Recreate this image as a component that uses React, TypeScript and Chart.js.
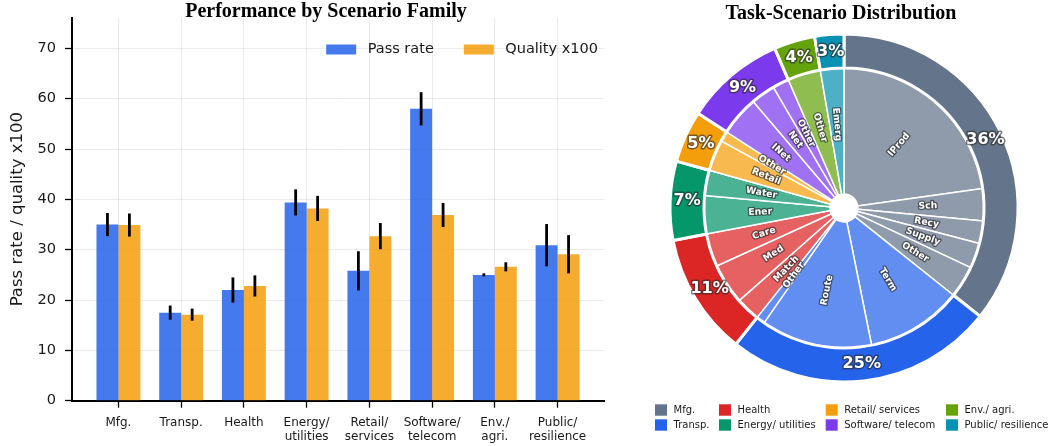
import React, { useEffect, useRef } from 'react';
import { Chart, registerables } from 'chart.js';

Chart.register(...registerables);

// ---------- Bar chart data ----------
const categories: string[][] = [
  ['Mfg.'], ['Transp.'], ['Health'], ['Energy/', 'utilities'],
  ['Retail/', 'services'], ['Software/', 'telecom'], ['Env./', 'agri.'], ['Public/', 'resilience'],
];
const passRate = [35.0, 17.5, 22.0, 39.4, 25.8, 58.0, 25.0, 30.9];
const passErr = [2.3, 1.4, 2.5, 2.6, 3.9, 3.3, 0.3, 4.2];
const quality = [34.9, 17.1, 22.8, 38.2, 32.7, 36.9, 26.6, 29.1];
const qualityErr = [2.3, 1.2, 2.1, 2.5, 2.6, 2.4, 0.9, 3.8];
const yTicks = [0, 10, 20, 30, 40, 50, 60, 70];

// ---------- Pie chart data ----------
const families = [
  'Mfg.', 'Transp.', 'Health', 'Energy/ utilities',
  'Retail/ services', 'Software/ telecom', 'Env./ agri.', 'Public/ resilience',
];
const familyColors = ['#64748b', '#2563eb', '#dc2626', '#059669', '#f59e0b', '#7c3aed', '#65a30d', '#0891b2'];
const subLabels: string[][] = [
  ['IProd', 'Sch', 'Recy', 'Supply', 'Other'],
  ['Term', 'Route', 'Other'],
  ['Match', 'Med', 'Care'],
  ['Ener', 'Water'],
  ['Retail', 'Other'],
  ['INet', 'Net', 'Other'],
  ['Other'],
  ['Emerg'],
];
const subValues: number[][] = [
  [22.7, 3.7, 2.6, 2.9, 3.7],
  [11.1, 12.8, 1.0],
  [2.8, 4.7, 3.8],
  [4.4, 2.9],
  [3.6, 1.2],
  [4.6, 2.8, 1.9],
  [3.8],
  [2.7],
];

const SANS = '"DejaVu Sans", sans-serif';
const SERIF = '"Liberation Serif", "Times New Roman", serif';
const PASS_COLOR = 'rgba(37,99,235,0.85)';
const QUAL_COLOR = 'rgba(245,158,11,0.85)';

function withAlpha(hex: string, a: number) {
  const r = parseInt(hex.slice(1, 3), 16);
  const g = parseInt(hex.slice(3, 5), 16);
  const b = parseInt(hex.slice(5, 7), 16);
  return `rgba(${r},${g},${b},${a})`;
}

const titlePlugin = (text: string, cx: number, baseline: number) => ({
  id: 'customTitle',
  afterDraw(chart: any) {
    const ctx = chart.ctx;
    ctx.save();
    ctx.font = `bold 20px ${SERIF}`;
    ctx.fillStyle = '#000';
    ctx.textAlign = 'center';
    ctx.textBaseline = 'alphabetic';
    ctx.fillText(text, cx, baseline);
    ctx.restore();
  },
});

const errorBarPlugin = {
  id: 'errorBars',
  afterDatasetsDraw(chart: any) {
    const ctx = chart.ctx;
    const yScale = chart.scales.y;
    chart.data.datasets.forEach((ds: any, di: number) => {
      const meta = chart.getDatasetMeta(di);
      meta.data.forEach((bar: any, i: number) => {
        const v = ds.data[i].y;
        const e = ds.errors[i];
        ctx.save();
        ctx.strokeStyle = '#000';
        ctx.lineWidth = 2.8;
        ctx.beginPath();
        ctx.moveTo(bar.x, yScale.getPixelForValue(v - e));
        ctx.lineTo(bar.x, yScale.getPixelForValue(v + e));
        ctx.stroke();
        ctx.restore();
      });
    });
  },
};

const barLegendPlugin = {
  id: 'barLegend',
  afterDraw(chart: any) {
    const { ctx, chartArea } = chart;
    ctx.save();
    ctx.font = `14.5px ${SANS}`;
    const items = chart.data.datasets.map((d: any) => ({ label: d.label, color: d.backgroundColor }));
    const boxW = 30, boxH = 10, gapBT = 11.5, gapItem = 30;
    let total = 0;
    items.forEach((it: any, k: number) => {
      total += boxW + gapBT + ctx.measureText(it.label).width + (k < items.length - 1 ? gapItem : 0);
    });
    let x = chartArea.right - 6 - total;
    const yc = 49.5;
    items.forEach((it: any) => {
      ctx.fillStyle = it.color;
      ctx.fillRect(x, yc - boxH / 2, boxW, boxH);
      x += boxW + gapBT;
      ctx.fillStyle = '#1a1a1a';
      ctx.textBaseline = 'middle';
      ctx.textAlign = 'left';
      ctx.fillText(it.label, x, yc);
      x += ctx.measureText(it.label).width + gapItem;
    });
    ctx.restore();
  },
};

const pieLabelPlugin = {
  id: 'pieLabels',
  afterDatasetsDraw(chart: any) {
    const ctx = chart.ctx;
    const outerDs = chart.data.datasets[0];
    const total = outerDs.data.reduce((a: number, b: number) => a + b, 0);
    ctx.save();
    ctx.lineJoin = 'round';
    // outer percentages
    chart.getDatasetMeta(0).data.forEach((arc: any, i: number) => {
      const p = arc.getProps(['x', 'y', 'startAngle', 'endAngle', 'innerRadius', 'outerRadius'], true);
      const mid = (p.startAngle + p.endAngle) / 2;
      const r = (p.innerRadius + p.outerRadius) / 2;
      const px = p.x + Math.cos(mid) * r;
      const py = p.y + Math.sin(mid) * r;
      const txt = Math.round((outerDs.data[i] / total) * 100) + '%';
      ctx.font = `bold 16px ${SANS}`;
      ctx.textAlign = 'center';
      ctx.textBaseline = 'middle';
      ctx.strokeStyle = 'rgba(40,40,40,0.6)';
      ctx.lineWidth = 3;
      ctx.strokeText(txt, px, py);
      ctx.fillStyle = '#fff';
      ctx.fillText(txt, px, py);
    });
    // inner labels
    const innerLabels = chart.data.datasets[1].labelsText;
    chart.getDatasetMeta(1).data.forEach((arc: any, i: number) => {
      const p = arc.getProps(['x', 'y', 'startAngle', 'endAngle', 'innerRadius', 'outerRadius'], true);
      const mid = (p.startAngle + p.endAngle) / 2;
      const r = p.innerRadius + 0.555 * (p.outerRadius - p.innerRadius);
      const px = p.x + Math.cos(mid) * r;
      const py = p.y + Math.sin(mid) * r;
      let rot = mid;
      while (rot > Math.PI / 2) rot -= Math.PI;
      while (rot < -Math.PI / 2) rot += Math.PI;
      ctx.save();
      ctx.translate(px, py);
      ctx.rotate(rot);
      ctx.font = `bold 9.3px ${SANS}`;
      ctx.textAlign = 'center';
      ctx.textBaseline = 'middle';
      ctx.strokeStyle = 'rgba(40,40,40,0.62)';
      ctx.lineWidth = 2.6;
      ctx.strokeText(innerLabels[i], 0, 0);
      ctx.fillStyle = '#fff';
      ctx.fillText(innerLabels[i], 0, 0);
      ctx.restore();
    });
    ctx.restore();
  },
};

const pieLegendPlugin = {
  id: 'pieLegend',
  afterDraw(chart: any) {
    const ctx = chart.ctx;
    const colX = [15, 79, 185.7, 306];
    const rowY = [410, 425];
    ctx.save();
    ctx.font = `10px ${SANS}`;
    ctx.textAlign = 'left';
    ctx.textBaseline = 'middle';
    families.forEach((name, i) => {
      const c = Math.floor(i / 2);
      const r = i % 2;
      ctx.fillStyle = familyColors[i];
      ctx.fillRect(colX[c], rowY[r] - 5.7, 12, 11.4);
      ctx.fillStyle = '#1a1a1a';
      ctx.fillText(name, colX[c] + 18.5, rowY[r] + 0.5);
    });
    ctx.restore();
  },
};

export default function App() {
  const barRef = useRef<HTMLCanvasElement>(null);
  const pieRef = useRef<HTMLCanvasElement>(null);

  useEffect(() => {
    Chart.defaults.font.family = SANS;
    Chart.defaults.color = '#1a1a1a';

    const bar = new Chart(barRef.current!, {
      type: 'bar',
      data: {
        datasets: [
          {
            label: 'Pass rate',
            data: passRate.map((v, i) => ({ x: i, y: v })),
            backgroundColor: PASS_COLOR,
            errors: passErr,
          } as any,
          {
            label: 'Quality x100',
            data: quality.map((v, i) => ({ x: i, y: v })),
            backgroundColor: QUAL_COLOR,
            errors: qualityErr,
          } as any,
        ],
      },
      options: {
        animation: false,
        responsive: false,
        events: [],
        layout: { padding: { top: 15, right: 16, left: 0, bottom: 0 } },
        datasets: { bar: { categoryPercentage: 0.7, barPercentage: 1.0 } },
        plugins: { legend: { display: false }, tooltip: { enabled: false }, title: { display: false } },
        scales: {
          x: {
            type: 'linear',
            min: -0.74,
            max: 7.74,
            offset: false,
            grid: { offset: false, color: 'rgba(0,0,0,0.08)', tickColor: '#000', tickLength: 7, tickWidth: 1.3 },
            border: { color: '#000', width: 2 },
            afterBuildTicks: (axis: any) => {
              axis.ticks = categories.map((_, i) => ({ value: i }));
            },
            afterFit: (axis: any) => {
              axis.height = 45.3;
            },
            ticks: {
              padding: 8,
              maxRotation: 0,
              autoSkip: false,
              font: { size: 12, lineHeight: 1.2 },
              color: '#1a1a1a',
              callback: (v: any) => categories[Math.round(v)] ?? '',
            },
          },
          y: {
            min: 0,
            max: 76.1,
            grid: { color: 'rgba(0,0,0,0.08)', tickColor: '#000', tickLength: 7, tickWidth: 1.3 },
            border: { color: '#000', width: 2 },
            afterBuildTicks: (axis: any) => {
              axis.ticks = yTicks.map((v) => ({ value: v }));
            },
            afterFit: (axis: any) => {
              axis.width = 72;
            },
            ticks: { padding: 9, font: { size: 14.5 }, color: '#1a1a1a' },
            title: {
              display: true,
              text: 'Pass rate / quality x100',
              font: { size: 16.5 },
              color: '#1a1a1a',
              padding: { top: 8, bottom: 4 },
            },
          },
        },
      } as any,
      plugins: [errorBarPlugin, barLegendPlugin, titlePlugin('Performance by Scenario Family', 326, 17)],
    });

    const outerData = subValues.map((arr) => arr.reduce((a, b) => a + b, 0));
    const innerData = subValues.flat();
    const innerColors = subValues.flatMap((arr, fi) => arr.map(() => withAlpha(familyColors[fi], 0.72)));
    const innerText = subLabels.flat();

    const pie = new Chart(pieRef.current!, {
      type: 'doughnut',
      data: {
        labels: innerText,
        datasets: [
          {
            label: 'Families',
            data: outerData,
            backgroundColor: familyColors,
            borderColor: '#fff',
            borderWidth: 3,
            weight: 34,
          } as any,
          {
            label: 'Scenarios',
            data: innerData,
            backgroundColor: innerColors,
            borderColor: '#fff',
            borderWidth: 1.5,
            weight: 126,
            labelsText: innerText,
          } as any,
        ],
      },
      options: {
        animation: false,
        responsive: false,
        events: [],
        radius: 174,
        cutout: '8%',
        layout: { padding: { left: 0, right: 4, top: 0, bottom: 30 } },
        plugins: { legend: { display: false }, tooltip: { enabled: false }, title: { display: false } },
      } as any,
      plugins: [pieLabelPlugin, pieLegendPlugin, titlePlugin('Task-Scenario Distribution', 201, 19)],
    });

    return () => {
      bar.destroy();
      pie.destroy();
    };
  }, []);

  return (
    <div style={{ position: 'fixed', left: 0, top: 0, width: 1052, height: 446, background: '#fff', overflow: 'hidden' }}>
      <canvas ref={barRef} width={620} height={446} style={{ position: 'absolute', left: 0, top: 0, width: 620, height: 446 }} />
      <canvas ref={pieRef} width={412} height={446} style={{ position: 'absolute', left: 640, top: 0, width: 412, height: 446 }} />
    </div>
  );
}
